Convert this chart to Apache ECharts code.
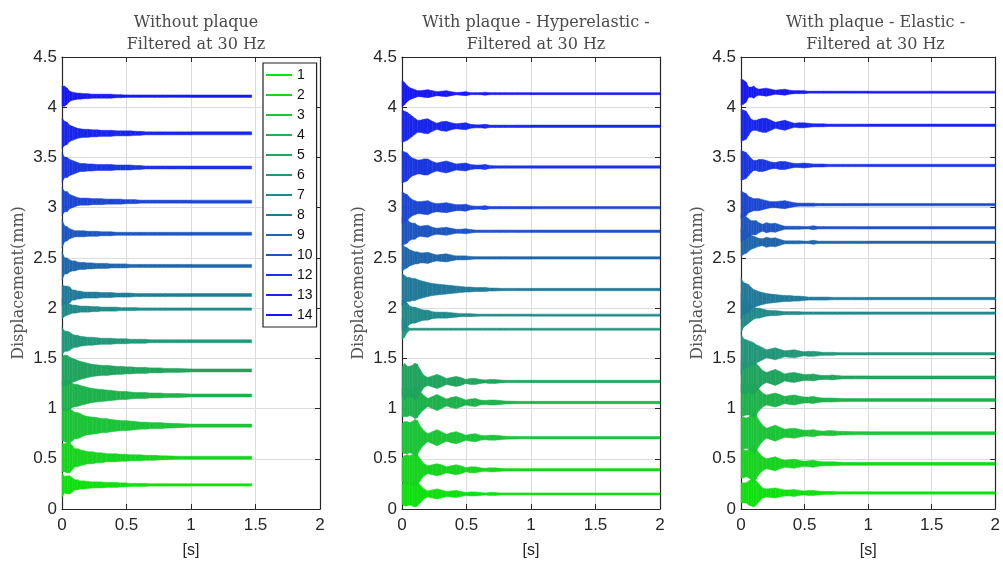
<!DOCTYPE html>
<html>
<head>
<meta charset="utf-8">
<script src="https://cdn.jsdelivr.net/npm/echarts@6/dist/echarts.min.js"></script>
<style>html,body{margin:0;padding:0;background:#fff;}#c{width:1003px;height:564px;}</style>
</head>
<body>
<div id="c"></div>
<script>
// ---------- data ----------
// shared time grid [s]; last point of each trace is the panel's end time
const tGrid = [0, 0.02, 0.04, 0.06, 0.08, 0.10, 0.12, 0.14, 0.17, 0.20, 0.235, 0.27, 0.305, 0.345, 0.38, 0.42, 0.455, 0.495, 0.53, 0.57, 0.605, 0.645, 0.68, 0.72, 0.76, 0.80, 0.90, 1.00];
const tEnd = [1.47, 2, 2];
const traceNames = ['1','2','3','4','5','6','7','8','9','10','11','12','13','14'];
const legendNames = ['1','2','3','4','5','6','7','8','9','10','12','13','14'];
const panelTitles = ['Without plaque\nFiltered at 30 Hz', 'With plaque - Hyperelastic -\nFiltered at 30 Hz', 'With plaque - Elastic -\nFiltered at 30 Hz'];
const xTicks = [0, 0.5, 1, 1.5, 2];
const yTicks = [0, 0.5, 1, 1.5, 2, 2.5, 3, 3.5, 4, 4.5];
const traceColors = ['#10e010', '#18d420', '#1cc438', '#1eb24c', '#20a45e', '#22977a', '#238a8a', '#227a9a', '#2066aa', '#1e56c0', '#1c46d4', '#1a36e0', '#1826ea', '#1818f4'];

// baseline displacement of each trace [mm]
const noPlaqueBase = [0.24, 0.51, 0.83, 1.13, 1.38, 1.67, 1.99, 2.13, 2.42, 2.74, 3.06, 3.40, 3.74, 4.11];
const hyperBase    = [0.15, 0.39, 0.71, 1.06, 1.27, 1.79, 1.93, 2.185, 2.50, 2.765, 3.00, 3.405, 3.81, 4.135];
const elasticBase  = [0.16, 0.45, 0.755, 1.085, 1.31, 1.545, 1.95, 2.095, 2.655, 2.80, 3.03, 3.42, 3.82, 4.15];

// oscillation envelope half-width at each time of the grid [0.01 mm]
const noPlaqueEnv = [
  [12, 8, 9, 9, 7, 5, 5, 4, 4, 3.5, 3, 3, 3, 2.5, 2.5, 2.5, 2, 2, 1.5, 1.5, 1.5, 1.5, 1.2, 1.2, 1.2, 1.2, 1.2, 1.2, 1.2],
  [14, 14, 15, 15, 12, 9, 9, 8, 7, 6, 6, 5, 5, 4, 4, 4, 3.5, 3.5, 3, 3, 3, 2.5, 2.5, 2.5, 2, 2, 1.5, 1.5, 1.5],
  [15, 16, 17, 17, 15, 13, 13, 12, 10, 9, 8.5, 8, 7, 7, 6, 5.5, 5, 5, 4.5, 4, 3.5, 3.5, 3, 3, 3, 2.5, 2, 1.5, 1.5],
  [14, 15, 15, 14, 12, 11, 11, 10, 9, 8, 7, 6.5, 6, 5.5, 5, 4.5, 4, 4, 3.5, 3, 3, 3, 2.5, 2.5, 2.5, 2, 2, 1.5, 1.5],
  [14, 15, 15, 13, 12, 11, 10, 9, 8, 7, 6, 5.5, 5, 5, 4.5, 4, 4, 3.5, 3.5, 3, 3, 3, 2.5, 2.5, 2.5, 2, 2, 1.5, 1.5],
  [14, 10, 10, 9, 7, 6, 6, 5, 4.5, 4, 4, 3.5, 3, 3, 3, 2.5, 2.5, 2.5, 2, 2, 2, 2, 1.5, 1.5, 1.5, 1.5, 1.5, 1.5, 1.5],
  [10, 7, 6, 5, 4, 4, 3.5, 3, 3, 3, 2.5, 2.5, 2, 2, 2, 2, 1.5, 1.5, 1.5, 1.5, 1.2, 1.2, 1.2, 1.2, 1.2, 1.2, 1.2, 1.2, 1.2],
  [10, 9, 9, 8, 5, 5, 4, 4, 3, 3, 3, 3, 2.5, 2.5, 2.5, 2, 2, 2, 2, 1.5, 1.5, 1.5, 1.5, 1.5, 1.5, 1.5, 1.5, 1.5, 1.5],
  [14, 8, 8, 6, 5, 5, 4, 3.5, 3.5, 3, 3, 2.5, 2.5, 2.5, 2, 2, 2, 2, 1.5, 1.5, 1.5, 1.5, 1.5, 1.5, 1.5, 1.5, 1.5, 1.5, 1.5],
  [14, 8, 7, 5, 4, 3, 3, 3, 3, 2.5, 2.5, 2.5, 2, 2, 2, 1.5, 1.5, 1.5, 1.5, 1.5, 1.5, 1.5, 1.5, 1.5, 1.5, 1.5, 1.5, 1.5, 1.5],
  [14, 10, 10, 7, 6, 5, 4, 3.5, 3.5, 3.5, 3, 3, 3, 2.5, 2.5, 2.5, 2.5, 2, 2, 2, 1.5, 1.5, 1.5, 1.5, 1.5, 1.5, 1.5, 1.5, 1.5],
  [15, 10, 10, 8, 7, 6, 5, 4, 4, 3.5, 3.5, 3, 3, 3, 3, 2.5, 2.5, 2.5, 2.5, 2, 2, 1.5, 1.5, 1.5, 1.5, 1.5, 1.5, 1.5, 1.5],
  [15, 12, 11, 8, 7, 6, 5, 4.5, 4, 4, 3.5, 3.5, 3, 3, 3, 2.5, 2.5, 2.5, 2.5, 2, 2, 1.5, 1.5, 1.5, 1.5, 1.5, 1.5, 1.5, 1.5],
  [10, 10, 8, 5, 4, 3.5, 3, 3, 2.5, 2.5, 2, 2, 2, 2, 2, 1.5, 1.5, 1.2, 1.2, 1.2, 1.2, 1.2, 1.2, 1.2, 1.2, 1.2, 1.2, 1.2, 1.2]
];
const hyperEnv = [
  [10, 12, 12, 11, 12, 13, 12, 9, 5, 3, 4, 5, 4, 2.5, 3, 3.5, 2.5, 1.5, 2, 2, 1.5, 1, 1.5, 1.5, 1, 1, 1, 1, 1],
  [12, 14, 15, 14, 15, 16, 15, 11, 6, 4, 5, 6, 5, 3, 4, 5, 4, 2, 3, 3, 2, 1.5, 2, 2, 1.5, 1.2, 1.2, 1.2, 1.2],
  [14, 16, 16, 15, 16, 18, 17, 12, 7, 4, 6, 8, 6, 3.5, 5, 6, 4.5, 2.5, 3.5, 4, 2.5, 2, 2.5, 2.5, 2, 1.5, 1.2, 1.2, 1.2],
  [14, 14, 14, 13, 14, 16, 15, 11, 7, 4, 6, 8, 6, 3.5, 5, 6, 4.5, 2.5, 3.5, 4, 2.5, 2, 2.5, 2.5, 2, 1.5, 1.2, 1.2, 1.2],
  [14, 18, 15, 15, 16, 18, 17, 12, 6, 4, 5.5, 7, 5.5, 3, 4, 5, 4, 2, 3, 3, 2, 1.5, 2, 2, 1.5, 1.2, 1.2, 1.2, 1.2],
  [10, 8, 3, 1, 1, 1, 1, 1, 1, 1, 1, 1, 1, 1, 1, 1, 1, 1, 1, 1, 1, 1, 1, 1, 1, 1, 1, 1, 1],
  [15, 15, 12, 9, 8, 8, 7, 6, 5, 5, 3.5, 3, 3, 3, 2.5, 2, 1.5, 1.5, 1.5, 1.2, 1, 1, 1, 1, 1, 1, 1, 1, 1],
  [16, 14, 12, 12, 11, 11, 10, 9, 8, 7, 6, 5.5, 5, 4.5, 4, 3.5, 3, 2.5, 2.5, 2, 2, 2, 1.5, 1.5, 1.2, 1.2, 1.2, 1.2, 1.2],
  [14, 11, 10, 8, 7, 6, 6, 5, 5, 5.5, 4, 3, 3.5, 4, 3, 2, 2, 2, 1.5, 1.2, 1.2, 1.2, 1.2, 1.2, 1.2, 1.2, 1.2, 1.2, 1.2],
  [14, 13, 12, 9, 8, 8, 6, 5, 5.5, 6, 4, 3, 3.5, 4, 3, 2, 2, 2.5, 1.8, 1.2, 1.2, 1.2, 1.2, 1.2, 1.2, 1.2, 1.2, 1.2, 1.2],
  [16, 14, 13, 10, 8, 7, 6, 6, 6.5, 7, 5, 4, 4.5, 5, 4, 3, 3, 3.5, 2, 1.5, 1.5, 2, 1.2, 1.2, 1.2, 1.2, 1.2, 1.2, 1.2],
  [16, 15, 14, 11, 9, 8, 7, 7, 8, 8, 5.5, 4, 5, 6, 4.5, 3, 3.5, 4, 2.5, 2, 2, 2.5, 1.5, 1.2, 1.2, 1.2, 1.2, 1.2, 1.2],
  [16, 15, 14, 12, 10, 8, 6, 6, 7, 7.5, 5, 3, 4.5, 5, 3.5, 2.5, 3, 3.5, 2, 1.5, 1.5, 2, 1.2, 1.2, 1.2, 1.2, 1.2, 1.2, 1.2],
  [13, 11, 8, 6, 5, 4, 3, 3, 3.5, 4, 3, 2, 2.5, 3, 2, 1.2, 1.5, 2, 1, 1, 1, 1.5, 1, 1, 1, 1, 1, 1, 1]
];
const elasticEnv = [
  [10, 10, 10, 12, 13, 14, 12, 9, 5, 4, 4.5, 5, 4, 3, 3, 3.5, 2.5, 2, 2.5, 2.5, 2, 1.5, 1.5, 1.5, 1.2, 1.2, 1.2, 1.2, 1.2],
  [14, 14, 13, 14, 16, 18, 15, 11, 7, 5, 6, 7, 5, 3.5, 4, 4.5, 3.5, 2.5, 3, 3.5, 2.5, 2, 2, 2, 1.8, 1.5, 1.5, 1.5, 1.5],
  [16, 16, 15, 16, 18, 20, 18, 13, 8, 5, 6.5, 8, 6, 4, 4.5, 5, 4, 3, 3, 3.5, 2.5, 2, 2.5, 2.5, 2, 1.8, 1.5, 1.5, 1.5],
  [16, 16, 15, 15, 16, 17, 15, 11, 7, 5, 6, 7, 5.5, 3.5, 4.5, 5, 4, 3, 3, 3.5, 2.5, 2, 2, 2, 1.8, 1.5, 1.5, 1.5, 1.5],
  [15, 16, 16, 15, 16, 16, 14, 11, 7, 5, 6.5, 8, 6, 3.5, 4.5, 5, 4, 3, 3, 3.5, 2.5, 2, 2, 2.5, 1.8, 1.5, 1.5, 1.5, 1.5],
  [20, 15, 14, 13, 12, 11, 9, 8, 6, 4, 5, 6, 4.5, 3, 3.5, 4, 3, 2, 2.5, 2.5, 2, 1.5, 1.5, 1.5, 1.2, 1.2, 1.2, 1.2, 1.2],
  [20, 14, 12, 10, 8, 6, 5, 5, 4, 3, 2.5, 2.5, 2, 1.5, 1.5, 1.5, 1.5, 1.2, 1.2, 1.2, 1.2, 1.2, 1.2, 1.2, 1.2, 1.2, 1.2, 1.2, 1.2],
  [20, 16, 15, 14, 11, 9, 8, 7, 6, 5, 4.5, 4, 3.5, 3, 3, 2.5, 2.5, 2, 1.5, 1.5, 1.5, 1.5, 1.5, 1.2, 1.2, 1.2, 1.2, 1.2, 1.2],
  [14, 12, 11, 9, 7, 6, 5, 4, 3.5, 5, 4, 4.5, 3, 1.5, 1.5, 1.5, 1.5, 1.2, 1.2, 2, 1.2, 1.2, 1.2, 1.2, 1.2, 1.2, 1.2, 1.2, 1.2],
  [14, 12, 11, 9, 7, 7, 7, 5, 3.5, 5, 4, 4.5, 3, 1.5, 1.5, 1.5, 1.5, 1.2, 1.2, 2, 1.2, 1.2, 1.2, 1.2, 1.2, 1.2, 1.2, 1.2, 1.2],
  [14, 12, 11, 8, 7, 6, 6, 6, 5, 4, 3, 3, 3.5, 4, 3, 2, 1.5, 1.5, 1.5, 1.5, 1.2, 1.2, 1.2, 1.2, 1.2, 1.2, 1.2, 1.2, 1.2],
  [15, 14, 13, 10, 7, 5, 5, 6, 6, 5, 3.5, 3, 4, 4, 3, 2, 2, 2.5, 2, 1.5, 1.5, 1.5, 1.2, 1.2, 1.2, 1.2, 1.2, 1.2, 1.2],
  [16, 15, 14, 10, 6, 5, 5, 6, 7, 7, 5, 3, 4, 5, 3.5, 2, 2.5, 2.5, 2, 1.5, 1.5, 1.5, 1.2, 1.2, 1.2, 1.2, 1.2, 1.2, 1.2],
  [13, 12, 10, 5, 5, 6, 4, 3, 3.5, 4, 3, 2, 2.5, 3, 2, 1.5, 1.5, 1.5, 1, 1, 1, 1, 1, 1, 1, 1, 1, 1, 1]
];

// ---------- layout / style ----------
const grids = [
  {left: 62, top: 57, width: 258, height: 455},
  {left: 402, top: 57, width: 258, height: 455},
  {left: 741, top: 57, width: 259, height: 455}
];
const SANS = 'Liberation Sans';
const SERIF = 'DejaVu Serif';
const INK = '#262626';

const xAxes = [], yAxes = [], titles = [], series = [];
grids.forEach((g, p) => {
  titles.push({
    text: panelTitles[p], left: g.left + g.width / 2, top: 7, textAlign: 'center',
    textStyle: {fontFamily: SERIF, fontSize: 16, fontWeight: 'normal', color: '#4a4a4a', lineHeight: 22}
  });
  xAxes.push({
    type: 'value', gridIndex: p, min: xTicks[0], max: xTicks[xTicks.length - 1], interval: 0.5,
    name: '[s]', nameLocation: 'middle', nameGap: 34,
    nameTextStyle: {fontFamily: SANS, fontSize: 16, color: INK},
    axisLine: {lineStyle: {color: INK, width: 1.2}},
    axisTick: {inside: true, length: 5, lineStyle: {color: INK}},
    axisLabel: {fontFamily: SANS, fontSize: 17, color: INK, margin: 8},
    splitLine: {show: true, lineStyle: {color: '#dcdcdc', width: 1}}
  });
  yAxes.push({
    type: 'value', gridIndex: p, min: yTicks[0], max: yTicks[yTicks.length - 1], interval: 0.5,
    name: 'Displacement(mm)', nameLocation: 'middle', nameGap: 35,
    nameTextStyle: {fontFamily: SERIF, fontSize: 16, color: '#555'},
    axisLine: {lineStyle: {color: INK, width: 1.2}},
    axisTick: {inside: true, length: 5, lineStyle: {color: INK}},
    axisLabel: {fontFamily: SANS, fontSize: 17, color: INK, margin: 5},
    splitLine: {show: true, lineStyle: {color: '#dcdcdc', width: 1}}
  });
});
// frame axes (top / right) with inside ticks
grids.forEach((g, p) => {
  xAxes.push({
    type: 'value', gridIndex: p, position: 'top', min: 0, max: 2, interval: 0.5,
    axisLine: {show: true, onZero: false, lineStyle: {color: INK, width: 1.2}},
    axisTick: {show: true, inside: true, length: 5, lineStyle: {color: INK}},
    axisLabel: {show: false}, splitLine: {show: false}
  });
  yAxes.push({
    type: 'value', gridIndex: p, position: 'right', min: 0, max: 4.5, interval: 0.5,
    axisLine: {show: true, onZero: false, lineStyle: {color: INK, width: 1.2}},
    axisTick: {show: true, inside: true, length: 5, lineStyle: {color: INK}},
    axisLabel: {show: false}, splitLine: {show: false}
  });
});

// each trace = band between base-env and base+env, drawn as quads between consecutive grid times
function renderBand(params, api) {
  const t0 = api.value(0), t1 = api.value(1);
  const lo0 = api.value(2), hi0 = api.value(3), lo1 = api.value(4), hi1 = api.value(5);
  const pts = [api.coord([t0, hi0]), api.coord([t1, hi1]), api.coord([t1, lo1]), api.coord([t0, lo0])];
  const col = api.visual('color');
  return {
    type: 'polygon',
    shape: {points: pts},
    style: {fill: col, stroke: col, lineWidth: 0.5}
  };
}

function addPanel(p, bases, envs) {
  const times = tGrid.concat([tEnd[p]]);
  bases.forEach((b, i) => {
    const env = envs[i];
    const col = traceColors[i];
    const items = [];
    for (let k = 0; k < times.length - 1; k++) {
      items.push([times[k], times[k + 1],
        b - env[k] / 100, b + env[k] / 100,
        b - env[k + 1] / 100, b + env[k + 1] / 100]);
    }
    series.push({
      type: 'custom', name: traceNames[i], xAxisIndex: p, yAxisIndex: p,
      renderItem: renderBand, color: col, itemStyle: {color: col},
      encode: {x: [0, 1], y: [2, 3, 4, 5]},
      z: 2 + i, silent: true,
      data: items
    });
  });
}
addPanel(0, noPlaqueBase, noPlaqueEnv);
addPanel(1, hyperBase, hyperEnv);
addPanel(2, elasticBase, elasticEnv);

const chart = echarts.init(document.getElementById('c'), null, {renderer: 'canvas'});
chart.setOption({
  animation: false,
  backgroundColor: '#ffffff',
  title: titles,
  grid: grids,
  xAxis: xAxes,
  yAxis: yAxes,
  legend: {
    data: legendNames.map(n => ({name: n, itemStyle: {color: traceColors[Number(n) - 1]}})),
    orient: 'vertical', left: 263, top: 63,
    icon: 'rect', itemWidth: 26, itemHeight: 2, itemGap: 6, itemTextGap: 1,
    backgroundColor: '#ffffff', borderColor: '#222', borderWidth: 1.2,
    padding: [5, 4, 5, 3], selectedMode: false,
    textStyle: {fontFamily: SANS, fontSize: 14, color: '#111', lineHeight: 14}
  },
  series: series
});
</script>
</body>
</html>
